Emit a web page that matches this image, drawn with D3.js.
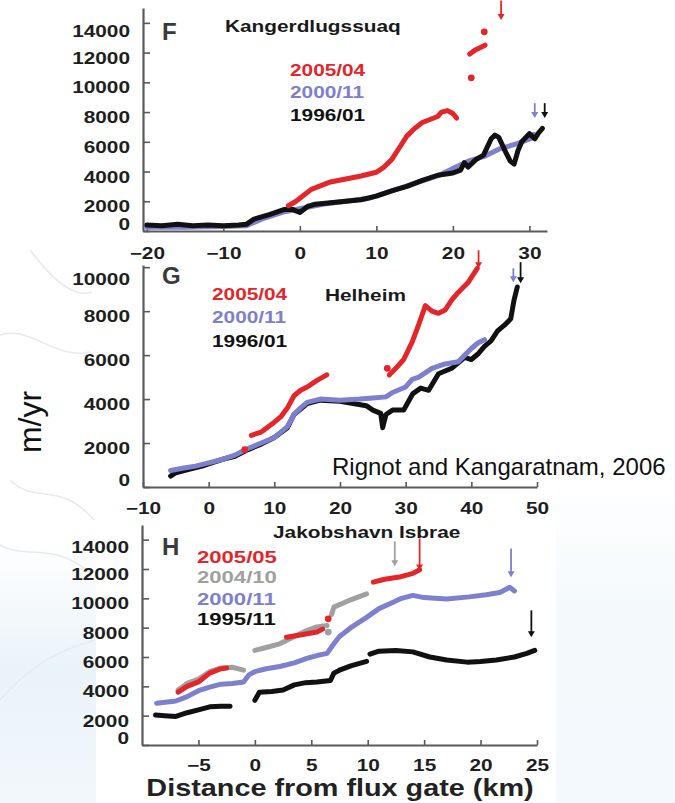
<!DOCTYPE html>
<html>
<head>
<meta charset="utf-8">
<script src="https://cdn.jsdelivr.net/npm/d3@7"></script>
<style>
  body { margin: 0; background: #fff; }
  svg { display: block; }
  text { font-family: "Liberation Sans", Arial, sans-serif; }
</style>
</head>
<body>
<svg id="chart" width="675" height="803"></svg>
<script>
// ---- data (km from flux gate, m/yr) ----
// panel F, Kangerdlugssuaq
const fBlue = [[[-20,250],[-15,250],[-10,300],[-7,350],[-5,800],[-2,1300],[0,1500],[3,1800],[6,2000],[9,2200],[12,2700],[15,3200],[18,3700],[20,4200],[22,4700],[24,5000],[26,5500],[28.5,5900],[30.3,6250],[30.6,6500]]]
const fBlack = [[[-20,400],[-18,350],[-16,450],[-14,350],[-12,400],[-10,350],[-8,400],[-7,450],[-6,800],[-4,1100],[-2,1450],[-1,1450],[0,1250],[1,1650],[2,1800],[4,1900],[6,2000],[8,2100],[10,2350],[12,2700],[14,3000],[16,3400],[18,3750],[20,3900],[21,4100],[21.5,4600],[22,4300],[23,4800],[24,5100],[25,6200],[25.5,6450],[26,6300],[27,5200],[27.5,4700],[28,4500],[28.5,5400],[29,6000],[30,6550],[30.7,6200],[31.2,6600],[31.7,6900]]]
const fRed = [
  [[-1.5,1700],[-0.5,2000],[0.5,2400],[1.5,2800],[2.5,3000],[4,3300],[6,3500],[8,3700],[10,3950],[11,4300],[12,4800],[13,5600],[14,6400],[15,6900],[16,7300],[17,7500],[18,7700],[18.5,8000],[19.3,8100],[20,7900],[20.5,7600]],
  [[22.4,10300]],
  [[22.2,11900],[23,12200],[24.2,12500]],
  [[24.1,13400]]
]
const fArrows = [['red',26.3,15500,14200],['blue',30.7,8600,7600],['black',32,8600,7600]]

// panel G, Helheim
const gBlack = [[[-5.8,500],[-5,650],[-3,800],[-1,950],[0,1050],[2,1250],[4,1400],[6,1700],[8,1950],[10,2250],[12,2700],[13,3300],[15,3800],[17,3950],[20,3900],[22,3800],[24,3700],[25,3500],[26.2,3350],[26.5,2700],[27,3300],[28,3500],[29.7,3500],[31.1,4250],[32.3,4500],[33.5,4400],[35,5150],[37,5400],[38,5650],[39,5900],[40,5800],[41,6050],[42,6400],[43,6650],[44,7100],[45,7350],[46,7650],[46.5,8500],[47,9100]]]
const gBlue = [[[-5.8,750],[-4,850],[-2,950],[0,1100],[2,1250],[4,1450],[5,1600],[6,1750],[8,2000],[10,2250],[11,2500],[12,2750],[13,3300],[14,3600],[15,3850],[17,4000],[20,3950],[23,4000],[25,4050],[27,4100],[28,4300],[30,4550],[31,4900],[32,5000],[34,5400],[36,5600],[38,5700],[39,6000],[40,6300],[41,6550],[42,6700]]]
const gRed = [
  [[5.5,1700]],
  [[6.5,2350],[8,2500],[10,2950],[11,3200],[12,3600],[13,4150],[14,4400],[15,4550],[16.5,4850],[18,5100]],
  [[27.2,5400]],
  [[27.5,5100],[28.5,5400],[29.7,5800],[31,6600],[32,7400],[33,8250],[34,8000],[35,7900],[36,8050],[37,8500],[38,8850],[39.5,9300],[40.9,9950]]
]
const gArrows = [['red',41.1,10770,9950],['blue',46.4,9950,9320],['black',47.5,10230,9270]]

// panel H, Jakobshavn Isbrae
const hBlack = [
  [[-8.8,2050],[-8,2000],[-7,1950],[-6,2200],[-5,2400],[-4,2600],[-3,2650],[-2.2,2650]],
  [[0,3050],[0.4,3600],[1.5,3650],[2.5,3750],[3.5,4100],[4.5,4250],[5.5,4300],[6.7,4400],[7,4900],[7.5,5100],[8.5,5400],[9.9,5700]],
  [[10.2,6200],[11,6400],[12.5,6450],[14,6350],[15.5,6000],[17,5800],[18.8,5650],[20,5700],[21.4,5800],[23,6000],[24.1,6250],[24.8,6450]]
]
const hBlue = [[[-8.7,2850],[-7,3000],[-6,3300],[-5,3700],[-4,3950],[-3,4150],[-2,4200],[-1,4300],[-0.5,4800],[0,5000],[1,5200],[2.2,5350],[3.5,5600],[4.6,5900],[5.5,6100],[6.4,6250],[7,6900],[7.5,7400],[8.5,8000],[9.9,8700],[11,9300],[12.3,9750],[13,10000],[14,10200],[15,10050],[17,9950],[19,10100],[20.5,10250],[21.7,10400],[22.6,10750],[23,10500]]]
const hGray = [
  [[-6.8,3750],[-6,4200],[-5,4500],[-4,5000],[-3,5250],[-2,5300],[-1,5100]],
  [[0,6450],[1,6650],[2.2,6900],[3.5,7400],[4.6,7800],[5.5,8050],[6.4,8150]],
  [[6.5,7700]],
  [[6.8,8900],[7,9400],[8.5,9900],[9.9,10300]]
]
const hRed = [
  [[-6.8,3600],[-6,4000],[-5,4300],[-4,4900],[-3,5200],[-2.5,5250]],
  [[2.8,7350],[4,7500],[5.5,7700],[6,7900]],
  [[6.5,8600]],
  [[10.5,11100],[11.5,11300],[12.8,11450],[14,11700],[14.6,11950]]
]
const hArrows = [['gray',12.4,13880,12180],['red',14.6,14080,11900],['blue',22.7,13400,11430],['black',24.5,9180,7350]]

// legend labels and tick values
const fLegend = ['2005/04', '2000/11', '1996/01']
const gLegend = ['2005/04', '2000/11', '1996/01']
const hLegend = ['2005/05', '2004/10', '2000/11', '1995/11']
const fXTicks = [-20, -10, 0, 10, 20, 30]
const gXTicks = [-10, 0, 10, 20, 30, 40, 50]
const hXTicks = [-5, 0, 5, 10, 15, 20, 25]
const fYTicks = [0, 2000, 4000, 6000, 8000, 10000, 12000, 14000]
const gYTicks = [0, 2000, 4000, 6000, 8000, 10000]
const hYTicks = [0, 2000, 4000, 6000, 8000, 10000, 12000, 14000]

const colors = { red: '#e3262a', blue: '#7d80cc', gray: '#a0a0a0', black: '#111' }

var svg = d3.select('#chart')

// 背景（淡色底图）
var defs = svg.append('defs')
var gradL = defs.append('linearGradient').attr('id', 'bgl').attr('x1', 0).attr('y1', 0).attr('x2', 0).attr('y2', 1)
gradL.append('stop').attr('offset', 0).attr('stop-color', '#ffffff')
gradL.append('stop').attr('offset', 0.5).attr('stop-color', '#eaf3f9')
gradL.append('stop').attr('offset', 1).attr('stop-color', '#f2f7fb')
var gradR = defs.append('linearGradient').attr('id', 'bgr').attr('x1', 0).attr('y1', 0).attr('x2', 0).attr('y2', 1)
gradR.append('stop').attr('offset', 0).attr('stop-color', '#ffffff')
gradR.append('stop').attr('offset', 0.4).attr('stop-color', '#f4f9fc')
gradR.append('stop').attr('offset', 1).attr('stop-color', '#f3f9fc')
svg.append('rect').attr('x', 0).attr('y', 540).attr('width', 96).attr('height', 263).attr('fill', 'url(#bgl)')
svg.append('rect').attr('x', 556).attr('y', 480).attr('width', 119).attr('height', 323).attr('fill', 'url(#bgr)')
var bgLines = ['M30,250 C45,270 70,300 92,292', 'M0,335 C30,325 55,360 90,352',
  'M10,480 C35,505 60,480 94,520', 'M0,545 C25,560 55,540 92,575', 'M0,700 C30,665 60,650 95,640']
svg.selectAll('path.bg').data(bgLines).enter().append('path').attr('class', 'bg')
  .attr('d', d => d).attr('fill', 'none').attr('stroke', '#e7ebf0').attr('stroke-width', 1.6)

var panels = [
  { name: 'F', title: 'Kangerdlugssuaq', letterPos: [162, 40], titlePos: [225, 32],
    xDomain: [-20.5, 32.3], xRange: [143, 547], yDomain: [0, 15000], yRange: [231, 8],
    xTicks: fXTicks, yTicks: fYTicks, topShift: 8.5, xPad: 17,
    series: [['blue', fBlue], ['black', fBlack], ['red', fRed]], arrows: fArrows,
    legend: fLegend, legendColors: ['red', 'blue', 'black'], legendX: 290, legendY: [76, 98, 121], legendSize: 16 },
  { name: 'G', title: 'Helheim', letterPos: [162, 284], titlePos: [325, 301],
    xDomain: [-10, 50], xRange: [143, 537], yDomain: [0, 10100], yRange: [487, 265],
    xTicks: gXTicks, yTicks: gYTicks, topShift: 12.5, xPad: 16,
    series: [['black', gBlack], ['blue', gBlue], ['red', gRed]], arrows: gArrows,
    legend: gLegend, legendColors: ['red', 'blue', 'black'], legendX: 212, legendY: [300, 323, 347], legendSize: 16 },
  { name: 'H', title: 'Jakobshavn Isbrae', letterPos: [162, 555], titlePos: [273, 538],
    xDomain: [-10, 25], xRange: [142, 537], yDomain: [0, 15000], yRange: [745, 525],
    xTicks: hXTicks, yTicks: hYTicks, topShift: 7.5, xPad: 15,
    series: [['black', hBlack], ['blue', hBlue], ['gray', hGray], ['red', hRed]], arrows: hArrows,
    legend: hLegend, legendColors: ['red', 'gray', 'blue', 'black'], legendX: 197, legendY: [563, 583, 605, 625], legendSize: 17 }
]

panels.forEach(drawPanel)

function drawPanel(p) {
  var x = d3.scaleLinear().domain(p.xDomain).range(p.xRange)
  var y = d3.scaleLinear().domain(p.yDomain).range(p.yRange)
  var g = svg.append('g').attr('class', 'panel-' + p.name)

  // 坐标轴
  var yAxis = g.append('g').attr('transform', `translate(${p.xRange[0]},0)`)
    .call(d3.axisLeft(y).tickValues(p.yTicks).tickFormat(d3.format('d')).tickSize(-7).tickSizeOuter(0).tickPadding(13))
  var xAxis = g.append('g').attr('transform', `translate(0,${p.yRange[0]})`)
    .call(d3.axisBottom(x).tickValues(p.xTicks).tickSize(-5).tickSizeOuter(0).tickPadding(p.xPad))
  ;[yAxis, xAxis].forEach(function (ax) {
    ax.select('.domain').attr('stroke', '#5a5a5a').attr('stroke-width', 2.2)
    ax.selectAll('.tick line').attr('stroke', '#5a5a5a').attr('stroke-width', 1.6)
    ax.selectAll('.tick text').attr('class', 'stretch').attr('fill', '#1e1e1e')
      .style('font-size', '16px').style('font-weight', 'bold')
      .style('font-family', '"Liberation Sans", Arial, sans-serif')
  })
  var last = p.yTicks[p.yTicks.length - 1]
  yAxis.selectAll('.tick text').attr('y', d => d === 0 ? -6.5 : d === last ? p.topShift : 5.5)

  // 数据线
  var line = d3.line().x(d => x(d[0])).y(d => y(d[1]))
  p.series.forEach(function (s) {
    var c = colors[s[0]]
    s[1].forEach(function (seg) {
      if (seg.length === 1) {
        g.append('circle').attr('cx', x(seg[0][0])).attr('cy', y(seg[0][1])).attr('r', 3.4).attr('fill', c)
      } else {
        g.append('path').attr('d', line(seg)).attr('fill', 'none').attr('stroke', c)
          .attr('stroke-width', 5).attr('stroke-linejoin', 'round').attr('stroke-linecap', 'round')
      }
    })
  })

  // 箭头
  p.arrows.forEach(function (a) {
    var c = colors[a[0]]
    var ax = x(a[1]), y1 = y(a[2]), y2 = y(a[3])
    g.append('line').attr('x1', ax).attr('x2', ax).attr('y1', y1).attr('y2', y2 - 4)
      .attr('stroke', c).attr('stroke-width', 1.8)
    g.append('path').attr('d', `M${ax - 3.5},${y2 - 6}L${ax + 3.5},${y2 - 6}L${ax},${y2}Z`).attr('fill', c)
  })

  // 文字
  g.append('text').attr('x', p.letterPos[0]).attr('y', p.letterPos[1]).text(p.name)
    .attr('fill', '#3a3a3a').style('font-size', '24px').style('font-weight', 'bold')
  g.append('text').attr('class', 'stretch').attr('x', p.titlePos[0]).attr('y', p.titlePos[1]).text(p.title)
    .attr('fill', '#1a1a1a').style('font-size', '16px').style('font-weight', 'bold')
  p.legend.forEach(function (t, i) {
    g.append('text').attr('class', 'stretch').attr('x', p.legendX).attr('y', p.legendY[i]).text(t)
      .attr('fill', colors[p.legendColors[i]]).style('font-size', p.legendSize + 'px').style('font-weight', 'bold')
  })
}

svg.append('text').attr('transform', 'translate(41,422) rotate(-90)').attr('text-anchor', 'middle')
  .text('m/yr').attr('fill', '#111').style('font-size', '32px')
svg.append('text').attr('x', 332).attr('y', 475).text('Rignot and Kangaratnam, 2006')
  .attr('fill', '#111').style('font-size', '24px')
svg.append('text').attr('class', 'stretch-axis').attr('x', 340).attr('y', 796).attr('text-anchor', 'middle')
  .text('Distance from flux gate (km)').attr('fill', '#222').style('font-size', '24px').style('font-weight', 'bold')

// 横向拉伸文字（原图为横向拉伸）
function stretchText(sel, k) {
  sel.each(function () {
    var w = this.getComputedTextLength()
    d3.select(this).attr('textLength', w * k).attr('lengthAdjust', 'spacingAndGlyphs')
  })
}
stretchText(svg.selectAll('text.stretch'), 1.3)
stretchText(svg.selectAll('text.stretch-axis'), 1.2)
</script>
</body>
</html>
